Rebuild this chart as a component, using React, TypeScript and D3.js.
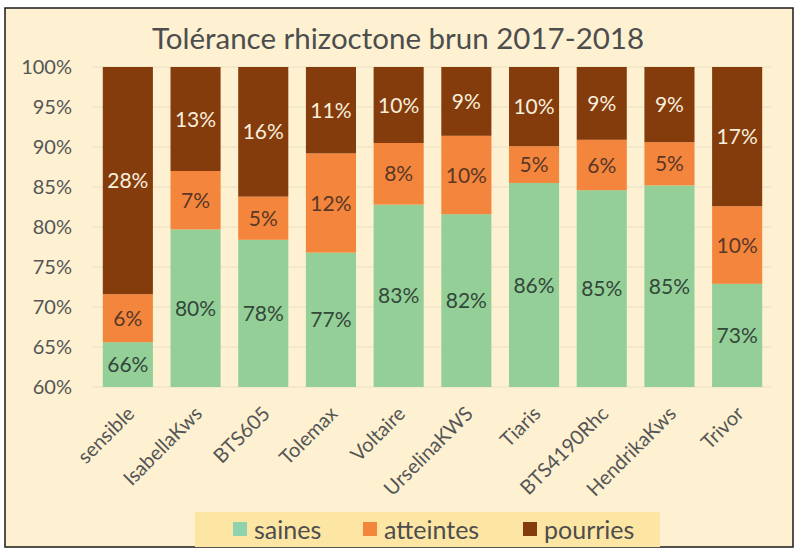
import React from "react";
import * as d3 from "d3";

const categories = ["sensible", "IsabellaKws", "BTS605", "Tolemax", "Voltaire", "UrselinaKWS", "Tiaris", "BTS4190Rhc", "HendrikaKws", "Trivor"];
const saines = [65.6, 79.7, 78.4, 76.8, 82.8, 81.6, 85.5, 84.6, 85.2, 72.9];
const atteintes = [6.0, 7.3, 5.4, 12.4, 7.7, 9.8, 4.6, 6.3, 5.4, 9.7];
const pourries = [28.4, 13.0, 16.2, 10.8, 9.5, 8.6, 9.9, 9.1, 9.4, 17.4];
const seriesNames = ["saines", "atteintes", "pourries"];
const yTicks = [60, 65, 70, 75, 80, 85, 90, 95, 100];
const title = "Tolérance rhizoctone brun 2017-2018";

const colors = ["#93cf97", "#f3863c", "#843c0d"];
const labelColors = ["#33473a", "#5a3726", "#f8efdc"];
const FONT = "Lato, 'Open Sans', sans-serif";

export default function App() {
  const W = 800, H = 555;
  const x = d3.scaleBand<string>().domain(categories).range([94, 771]).paddingInner(0.26).paddingOuter(0.13);
  const y = d3.scaleLinear().domain([60, 100]).range([387, 67]).clamp(true);

  const rows = categories.map((c, i) => ({ cat: c, saines: saines[i], atteintes: atteintes[i], pourries: pourries[i] }));
  const stack = d3.stack<any>().keys(seriesNames);
  const layers = stack(rows);

  return (
    <svg width={W} height={H} style={{ position: "absolute", left: 0, top: 0, display: "block" }} fontFamily={FONT}>
      <rect x={0} y={0} width={W} height={H} fill="#ffffff" />
      <rect x={5} y={8} width={788} height={539} fill="#fdf1d2" stroke="#1a1a1a" strokeWidth={1.5} />
      <text x={398} y={49} textAnchor="middle" fontSize={29.5} fill="#4d4d4d">{title}</text>
      {yTicks.map((t) => (
        <g key={t}>
          <line x1={93} x2={771} y1={y(t)} y2={y(t)} stroke="#e9dfc2" strokeWidth={1.2} />
          <text x={72} y={y(t)} dy="0.35em" textAnchor="end" fontSize={20} fill="#555">{t}%</text>
        </g>
      ))}
      {layers.map((layer, li) => (
        <g key={layer.key}>
          {layer.map((d, i) => {
            const y0 = y(d[0]);
            const y1 = y(d[1]);
            const xx = x(categories[i])!;
            const val = d[1] - d[0];
            return (
              <g key={i}>
                <rect x={xx} y={y1} width={x.bandwidth()} height={y0 - y1} fill={colors[li]} />
                <text x={xx + x.bandwidth() / 2} y={(y0 + y1) / 2} dy="0.36em" textAnchor="middle" fontSize={21} fill={labelColors[li]}>
                  {Math.round(val)}%
                </text>
              </g>
            );
          })}
        </g>
      ))}
      {categories.map((c) => {
        const cx = x(c)! + x.bandwidth() / 2;
        return (
          <text key={c} transform={`translate(${cx + 3},${410}) rotate(-45)`} textAnchor="end" fontSize={20} fill="#555" dy="0.35em">
            {c}
          </text>
        );
      })}
      <rect x={195} y={512} width={465} height={35} fill="#fde6a4" />
      {seriesNames.map((s, i) => {
        const lx = [233, 363, 523][i];
        return (
          <g key={s}>
            <rect x={lx} y={522} width={14} height={14} fill={i === 0 ? "#8fd3ae" : colors[i]} />
            <text x={lx + 21} y={530} dy="0.35em" fontSize={25} fill="#4d4d4d">{s}</text>
          </g>
        );
      })}
    </svg>
  );
}
